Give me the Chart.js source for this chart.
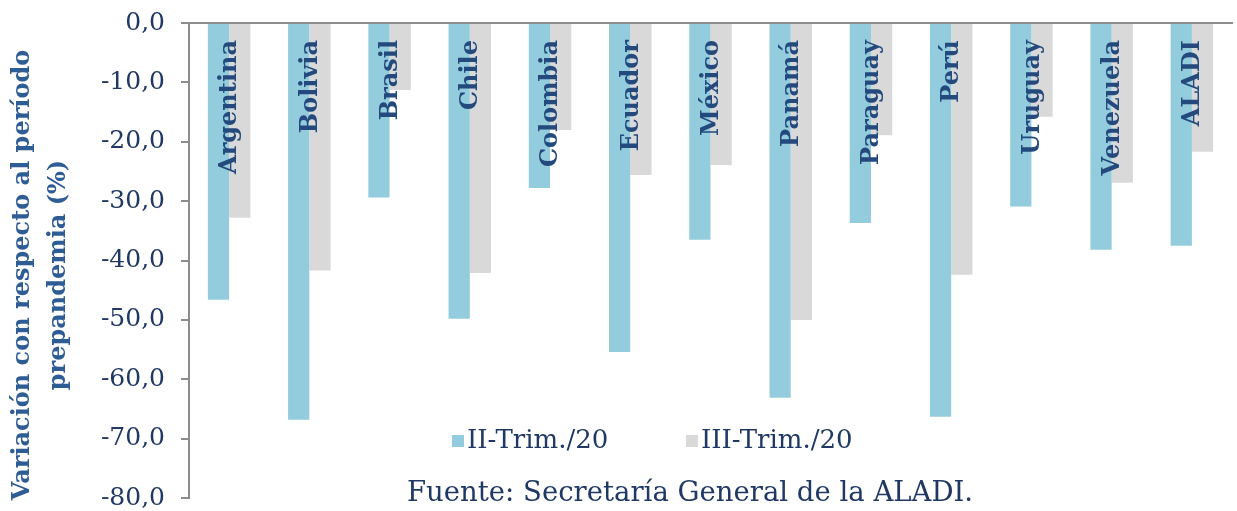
<!DOCTYPE html>
<html>
<head>
<meta charset="utf-8">
<script src="https://cdn.jsdelivr.net/npm/chart.js@4/dist/chart.umd.min.js"></script>
<style>
  html, body { margin: 0; padding: 0; background: #fff; }
  #wrap { width: 1237px; height: 511px; position: relative; }
</style>
</head>
<body>
<div id="wrap"><canvas id="grafico"></canvas></div>
<script>
// datos
const categorias = ['Argentina', 'Bolivia', 'Brasil', 'Chile', 'Colombia', 'Ecuador', 'México',
                    'Panamá', 'Paraguay', 'Perú', 'Uruguay', 'Venezuela', 'ALADI'];
const trimII  = [-46.6, -66.8, -29.4, -49.8, -27.8, -55.4, -36.5, -63.1, -33.7, -66.3, -30.9, -38.2, -37.5];
const trimIII = [-32.8, -41.7, -11.3, -42.1, -18.0, -25.6, -23.9, -50.0, -18.9, -42.4, -15.8, -26.9, -21.7];
const series = ['II-Trim./20', 'III-Trim./20'];
const tituloY = ['Variación con respecto al período', 'prepandemia (%)'];
const fuente = 'Fuente: Secretaría General de la ALADI.';

const serif = "'DejaVu Serif', serif";
const azulOscuro = '#1f3864';

// etiquetas de país dentro de las barras, título del eje, leyenda y fuente
const extras = {
    id: 'extras',
    afterDatasetsDraw(chart) {
        const ctx = chart.ctx;
        const x = chart.scales.x;
        ctx.save();
        ctx.fillStyle = '#23497d';
        ctx.font = 'bold 24px ' + serif;
        categorias.forEach((c, i) => {
            ctx.save();
            ctx.translate(x.getPixelForValue(i) + 1, 40);
            ctx.rotate(-Math.PI / 2);
            ctx.textAlign = 'right';
            ctx.textBaseline = 'middle';
            ctx.fillText(c, 0, 0);
            ctx.restore();
        });
        ctx.restore();
    },
    afterDraw(chart) {
        const ctx = chart.ctx;
        ctx.save();
        // título del eje Y
        ctx.fillStyle = '#2e5c94';
        ctx.font = 'bold 24px ' + serif;
        ctx.textAlign = 'center';
        ctx.textBaseline = 'middle';
        [23, 59].forEach((px, i) => {
            ctx.save();
            ctx.translate(px, 275);
            ctx.rotate(-Math.PI / 2);
            ctx.fillText(tituloY[i], 0, 0);
            ctx.restore();
        });
        // leyenda
        ctx.font = '26px ' + serif;
        const posX = [452, 686];
        chart.data.datasets.forEach((ds, i) => {
            ctx.fillStyle = ds.backgroundColor;
            ctx.fillRect(posX[i], 435, 12, 12);
            ctx.fillStyle = azulOscuro;
            ctx.textAlign = 'left';
            ctx.fillText(ds.label, posX[i] + 15, 441);
        });
        // fuente
        ctx.font = '27.5px ' + serif;
        ctx.textAlign = 'center';
        ctx.textBaseline = 'alphabetic';
        ctx.fillStyle = azulOscuro;
        ctx.fillText(fuente, 690, 501);
        ctx.restore();
    }
};

const ctx = document.getElementById('grafico').getContext('2d');
new Chart(ctx, {
    type: 'bar',
    data: {
        labels: categorias,
        datasets: [
            { label: series[0], data: trimII, backgroundColor: '#93cddd' },
            { label: series[1], data: trimIII, backgroundColor: '#d9d9d9' }
        ]
    },
    options: {
        responsive: true,
        maintainAspectRatio: false,
        animation: false,
        layout: { padding: { top: 23, right: 5, bottom: 13, left: 0 } },
        datasets: { bar: { categoryPercentage: 0.53, barPercentage: 1.0 } },
        plugins: {
            legend: { display: false },
            tooltip: { enabled: false }
        },
        scales: {
            x: {
                position: 'top',
                afterFit(scale) { scale.height = 0; },
                ticks: { display: false },
                grid: { display: false },
                border: { display: true, color: '#8c8c8c', width: 2 }
            },
            y: {
                min: -80,
                max: 0,
                afterFit(scale) {
                    scale.width = 189;
                    scale.paddingTop = 0;
                    scale.paddingBottom = 0;
                },
                ticks: {
                    stepSize: 10,
                    color: azulOscuro,
                    font: { family: serif, size: 25, lineHeight: 0.5 },
                    padding: 16,
                    callback: v => v.toFixed(1).replace('.', ',')
                },
                grid: { drawOnChartArea: false, drawTicks: true, tickLength: 8, color: '#8c8c8c', lineWidth: 2 },
                border: { display: true, color: '#8c8c8c', width: 2 }
            }
        }
    },
    plugins: [extras]
});
</script>
</body>
</html>
